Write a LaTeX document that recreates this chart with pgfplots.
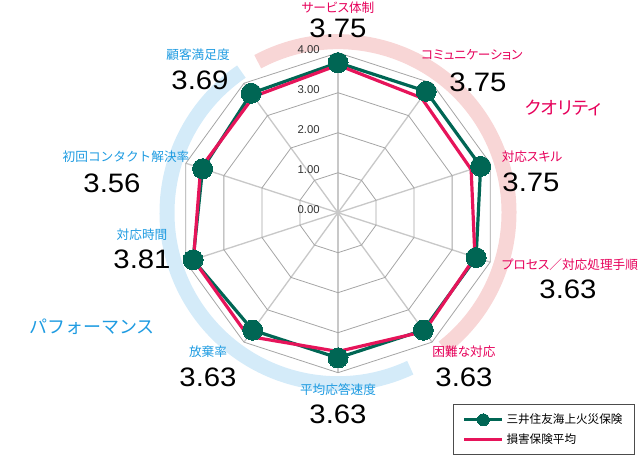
\documentclass[border=0pt]{standalone}
\usepackage{fontspec}
\setmainfont{Liberation Sans}
\newfontfamily\jp{Noto Sans CJK JP}[RawFeature=+palt]
\newfontfamily\jpn{Noto Sans CJK JP}
\newfontfamily\numf{Liberation Sans}[FakeStretch=1.1]
\usepackage{pgfplots}
\pgfplotsset{compat=1.18}
\usepgfplotslibrary{polar}
\definecolor{mgreen}{RGB}{0,102,84}
\definecolor{mpink}{RGB}{230,20,90}
\definecolor{tpink}{RGB}{230,0,90}
\definecolor{tblue}{RGB}{30,155,225}
\definecolor{apink}{RGB}{248,214,214}
\definecolor{ablue}{RGB}{212,235,249}
\definecolor{gridc}{RGB}{165,165,165}
\definecolor{spokec}{RGB}{200,200,200}
\begin{document}
\begin{tikzpicture}
\tikzset{
 jl/.style={font=\jp\fontsize{9.5pt}{11pt}\selectfont, inner sep=0pt},
 jln/.style={font=\jpn\fontsize{9.5pt}{11pt}\selectfont, inner sep=0pt},
 num/.style={font=\numf\fontsize{20pt}{23pt}\selectfont, inner sep=0pt},
 cat/.style={font=\jp\fontsize{13.5pt}{16pt}\selectfont, inner sep=0pt},
 catn/.style={font=\jpn\fontsize{13.5pt}{16pt}\selectfont, inner sep=0pt},
 tk/.style={font=\fontsize{8.5pt}{10pt}\selectfont, inner sep=0pt, anchor=east, text=black!80}
}
\begin{scope}[x=0.75pt,y=0.75pt]
\useasboundingbox (0,0) rectangle (643,460);
\draw[apink, line width=11.25pt] (338,247.3) ++(118:128.25pt) arc[start angle=118, end angle=-52, radius=128.25pt];
\draw[ablue, line width=11.25pt] (338,247.3) ++(124.4:128.25pt) arc[start angle=124.4, end angle=295, radius=128.25pt];
\end{scope}

\begin{polaraxis}[at={(253.5pt,185.475pt)}, anchor=center, scale only axis,
  width=240pt, height=240pt, hide axis, ymin=0, ymax=4, xmin=0, xmax=360, clip=false,
  legend cell align=left,
  legend image code/.code={\draw[mark repeat=2,mark phase=2,#1,mark size=4.5pt] plot coordinates {(0cm,0cm)(0.5cm,0cm)(1cm,0cm)};},
  legend style={at={(0.859,-0.098)}, anchor=north west, draw=black!70, line width=0.8pt,
    font=\jp\fontsize{8.7pt}{10pt}\selectfont, inner xsep=7pt, inner ysep=5pt, row sep=2pt}]
% spokes
\addplot[spokec, line width=1pt, forget plot] coordinates {(90,0)(90,4)};
\addplot[spokec, line width=1pt, forget plot] coordinates {(54,0)(54,4)};
\addplot[spokec, line width=1pt, forget plot] coordinates {(18,0)(18,4)};
\addplot[spokec, line width=1pt, forget plot] coordinates {(342,0)(342,4)};
\addplot[spokec, line width=1pt, forget plot] coordinates {(306,0)(306,4)};
\addplot[spokec, line width=1pt, forget plot] coordinates {(270,0)(270,4)};
\addplot[spokec, line width=1pt, forget plot] coordinates {(234,0)(234,4)};
\addplot[spokec, line width=1pt, forget plot] coordinates {(198,0)(198,4)};
\addplot[spokec, line width=1pt, forget plot] coordinates {(162,0)(162,4)};
\addplot[spokec, line width=1pt, forget plot] coordinates {(126,0)(126,4)};
% rings
\addplot[gridc, line width=0.6pt, forget plot] coordinates {(90,1)(54,1)(18,1)(342,1)(306,1)(270,1)(234,1)(198,1)(162,1)(126,1)(90,1)};
\addplot[gridc, line width=0.6pt, forget plot] coordinates {(90,2)(54,2)(18,2)(342,2)(306,2)(270,2)(234,2)(198,2)(162,2)(126,2)(90,2)};
\addplot[gridc, line width=0.6pt, forget plot] coordinates {(90,3)(54,3)(18,3)(342,3)(306,3)(270,3)(234,3)(198,3)(162,3)(126,3)(90,3)};
\addplot[gridc, line width=0.6pt, forget plot] coordinates {(90,4)(54,4)(18,4)(342,4)(306,4)(270,4)(234,4)(198,4)(162,4)(126,4)(90,4)};
\addplot[only marks, mark=*, mark size=1.5pt, mark options={fill=spokec, draw=spokec}, forget plot] coordinates {(0,0)};
% data
\addplot[mgreen, line width=2.4pt, mark=*, mark size=7.5pt, mark options={solid, fill=mgreen, draw=mgreen, line width=0pt}]
 coordinates {(90,3.75)(54,3.75)(18,3.75)(342,3.63)(306,3.63)(270,3.63)(234,3.63)(198,3.81)(162,3.56)(126,3.69)(90,3.75)};
\addlegendentry{三井住友海上火災保険}
\addplot[mpink, line width=2.4pt, no marks]
 coordinates {(90,3.69)(54,3.55)(18,3.50)(342,3.60)(306,3.67)(270,3.47)(234,3.82)(198,3.80)(162,3.61)(126,3.59)(90,3.69)};
\addlegendentry{損害保険平均}
\end{polaraxis}

\begin{scope}[x=0.75pt,y=0.75pt]
\node[tk] at (320,410) {4.00};
\node[tk] at (320,370) {3.00};
\node[tk] at (320,330) {2.00};
\node[tk] at (320,290) {1.00};
\node[tk] at (320,250) {0.00};
\node[jl, text=tpink] at (338,452) {サービス体制};
\node[num] at (338,432) {3.75};
\node[jl, text=tblue] at (198,405) {顧客満足度};
\node[num] at (200,380) {3.69};
\node[jl, text=tpink] at (472,405) {コミュニケーション};
\node[num] at (478,378) {3.75};
\node[cat, text=tpink] at (563,352) {クオリティ};
\node[jln, text=tblue] at (126,303) {初回コンタクト解決率};
\node[num] at (112,277) {3.56};
\node[jl, text=tpink] at (532,303) {対応スキル};
\node[num] at (531,278) {3.75};
\node[jl, text=tblue] at (142,225) {対応時間};
\node[num] at (142,201) {3.81};
\node[jl, text=tpink] at (570,195) {プロセス／対応処理手順};
\node[num] at (568,171) {3.63};
\node[catn, text=tblue] at (92,133) {パフォーマンス};
\node[jl, text=tblue] at (208,108) {放棄率};
\node[num] at (208,83) {3.63};
\node[jl, text=tpink] at (464,108) {困難な対応};
\node[num] at (464,83) {3.63};
\node[jl, text=tblue] at (338,70) {平均応答速度};
\node[num] at (338,46) {3.63};
\end{scope}
\end{tikzpicture}
\end{document}
